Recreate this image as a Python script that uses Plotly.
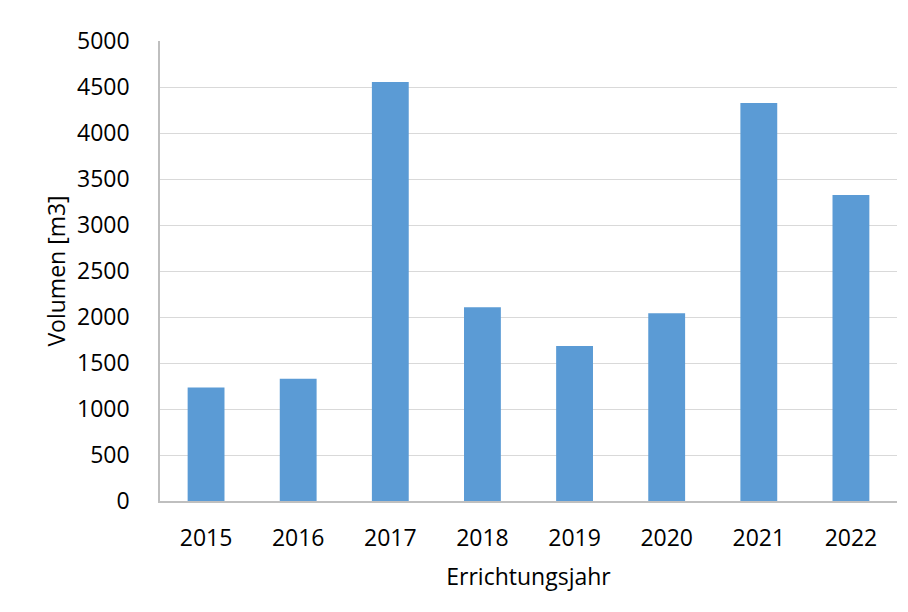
import plotly.graph_objects as go

# Data
years = ["2015", "2016", "2017", "2018", "2019", "2020", "2021", "2022"]
volumen = [1235, 1330, 4555, 2105, 1685, 2040, 4325, 3325]

y_ticks = [0, 500, 1000, 1500, 2000, 2500, 3000, 3500, 4000, 4500, 5000]

font_family = "Open Sans, Liberation Sans, sans-serif"

fig = go.Figure()

fig.add_trace(
    go.Bar(
        x=years,
        y=volumen,
        marker=dict(color="#5B9BD5", line=dict(width=0)),
        showlegend=False,
    )
)

fig.update_xaxes(
    title=dict(text="Errichtungsjahr", font=dict(size=23, color="#000000"), standoff=17),
    tickfont=dict(size=23, color="#000000"),
    showline=True,
    linecolor="#BFBFBF",
    linewidth=1.5,
    showgrid=False,
    ticks="",
    ticklabelstandoff=16,
)

fig.update_yaxes(
    title=dict(text="Volumen [m3]", font=dict(size=23, color="#000000"), standoff=5),
    tickfont=dict(size=23, color="#000000"),
    range=[0, 5000],
    tickvals=y_ticks,
    showline=True,
    linecolor="#BFBFBF",
    linewidth=1.5,
    showgrid=True,
    gridcolor="#D9D9D9",
    gridwidth=1,
    zeroline=False,
    ticks="",
    ticklabelstandoff=24,
)

# page body has an 8px margin, so the figure is sized 8px smaller
fig.update_layout(
    width=900,
    height=604,
    font=dict(family=font_family),
    plot_bgcolor="white",
    paper_bgcolor="white",
    bargap=0.6,
    margin=dict(l=152, r=11, t=33, b=111),
)

fig.write_html("out.html")
